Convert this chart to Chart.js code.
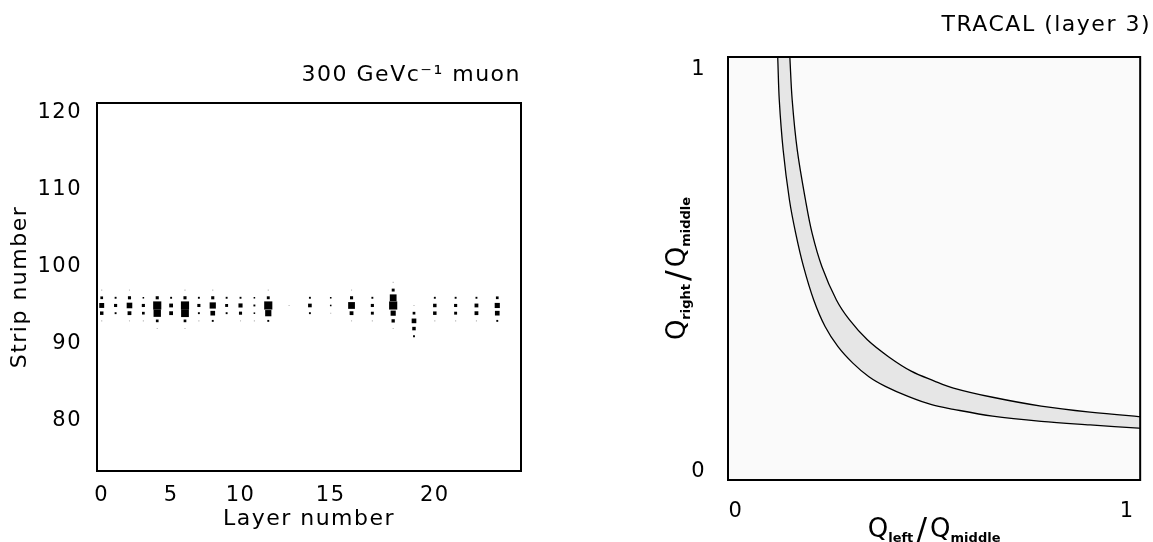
<!DOCTYPE html>
<html>
<head>
<meta charset="utf-8">
<script src="https://cdn.jsdelivr.net/npm/chart.js@4.4.1/dist/chart.umd.min.js"></script>
<style>
  html, body { margin: 0; padding: 0; background: #fff; overflow: hidden; }
  #wrap { position: relative; width: 1153px; height: 542px; }
  .panel { position: absolute; top: 0; }
  #left { left: 0; }
  #right { left: 600px; }
</style>
</head>
<body>
<div id="wrap">
  <div class="panel" id="left"><canvas id="hits" width="560" height="542"></canvas></div>
  <div class="panel" id="right"><canvas id="ratio" width="553" height="542"></canvas></div>
</div>
<script>
  // ---- left panel : hit map of a 300 GeV muon ----
  const LAYERS = [0, 1, 2, 3, 4, 5, 6, 7, 8, 9, 10, 11, 12, 13, 14, 15, 16, 17, 18, 19, 20, 21, 22, 23];
  const STRIPS = [98, 97, 96, 95, 94, 93, 92, 91];
  // hits per layer, one entry per strip in STRIPS order
  const HITS = [
    [0, 1, 6, 20, 10, 1, 0, 0],
    [0, 0, 3, 8, 3, 0, 0, 0],
    [0, 1, 8, 26, 12, 1, 0, 0],
    [0, 0, 2, 8, 6, 1, 0, 0],
    [0, 0, 8, 55, 45, 6, 1, 0],
    [0, 0, 3, 12, 12, 0, 0, 0],
    [0, 1, 8, 55, 50, 6, 1, 0],
    [0, 0, 3, 8, 3, 1, 0, 0],
    [0, 1, 8, 32, 18, 3, 0, 0],
    [0, 0, 3, 7, 3, 0, 0, 0],
    [0, 0, 3, 14, 8, 1, 0, 0],
    [0, 0, 2, 3, 2, 1, 0, 0],
    [0, 1, 7, 55, 32, 3, 0, 0],
    [0, 0, 0, 1, 0, 0, 0, 0],
    [0, 0, 3, 11, 3, 0, 0, 0],
    [0, 0, 2, 2, 1, 0, 0, 0],
    [0, 1, 8, 38, 12, 1, 0, 0],
    [0, 0, 3, 8, 7, 1, 0, 0],
    [1, 7, 38, 55, 22, 9, 1, 0],
    [0, 0, 0, 1, 6, 18, 10, 3],
    [0, 0, 3, 10, 10, 1, 0, 0],
    [0, 0, 3, 8, 7, 1, 0, 0],
    [0, 0, 3, 12, 12, 1, 0, 0],
    [0, 0, 6, 22, 18, 3, 0, 0]
  ];
  const LAYER_TICKS = [0, 5, 10, 15, 20];
  const STRIP_TICKS = [80, 90, 100, 110, 120];

  // ---- right panel : TRACAL layer 3 charge ratios, band limits ----
  const INNER_X = [0.105, 0.107, 0.111, 0.121, 0.137, 0.153, 0.173, 0.199, 0.228, 0.261, 0.299, 0.340, 0.382, 0.440, 0.498, 0.556, 0.656, 0.780, 0.905, 1.029, 1.060];
  const INNER_Y = [1.070, 1.032, 0.925, 0.800, 0.676, 0.593, 0.510, 0.427, 0.361, 0.311, 0.270, 0.236, 0.212, 0.187, 0.167, 0.155, 0.138, 0.125, 0.116, 0.108, 0.106];
  const OUTER_X = [0.136, 0.138, 0.144, 0.157, 0.178, 0.195, 0.220, 0.257, 0.290, 0.336, 0.390, 0.448, 0.506, 0.556, 0.656, 0.780, 0.905, 1.029, 1.060];
  const OUTER_Y = [1.070, 1.032, 0.925, 0.800, 0.676, 0.593, 0.510, 0.427, 0.378, 0.328, 0.286, 0.250, 0.226, 0.208, 0.185, 0.163, 0.148, 0.137, 0.135];
  const RATIO_TICKS = [0, 1];

  const FONT = "'DejaVu Sans', sans-serif";
  Chart.defaults.font.family = FONT;
  Chart.defaults.color = '#000';

  // layers after BREAK_LAYER sit on a wider pitch in the original drawing
  const BREAK_LAYER = 12;
  const OUTER_PITCH = 1.5;

  class LayerScale extends Chart.LinearScale {
    warp(v) {
      return v <= BREAK_LAYER ? v : BREAK_LAYER + (v - BREAK_LAYER) * OUTER_PITCH;
    }
    unwarp(w) {
      return w <= BREAK_LAYER ? w : BREAK_LAYER + (w - BREAK_LAYER) / OUTER_PITCH;
    }
    getPixelForValue(value) {
      const a = this.warp(this.min), b = this.warp(this.max);
      return this.getPixelForDecimal((this.warp(value) - a) / (b - a));
    }
    getValueForPixel(pixel) {
      const a = this.warp(this.min), b = this.warp(this.max);
      return this.unwarp(a + this.getDecimalForPixel(pixel) * (b - a));
    }
  }
  LayerScale.id = 'layerwarp';
  LayerScale.defaults = Chart.LinearScale.defaults;
  Chart.register(LayerScale);

  // box around the plot area + light background + text spacing
  const framePlugin = {
    id: 'frame',
    beforeDraw(chart, args, opts) {
      chart.ctx.letterSpacing = opts.spacing || '0px';
    },
    beforeDatasetsDraw(chart, args, opts) {
      const {ctx, chartArea: a} = chart;
      if (opts.fill) {
        ctx.save();
        ctx.fillStyle = opts.fill;
        ctx.fillRect(a.left, a.top, a.right - a.left, a.bottom - a.top);
        ctx.restore();
      }
    },
    afterDatasetsDraw(chart, args, opts) {
      const {ctx, chartArea: a} = chart;
      ctx.save();
      ctx.strokeStyle = '#000';
      ctx.lineWidth = opts.width || 2;
      ctx.strokeRect(a.left, a.top, a.right - a.left, a.bottom - a.top);
      ctx.restore();
    }
  };

  // axis titles with subscripts (Q_left / Q_middle)
  function drawRuns(ctx, runs, cx, cy, rotate) {
    ctx.save();
    ctx.translate(cx, cy);
    if (rotate) ctx.rotate(-Math.PI / 2);
    ctx.letterSpacing = '0px';
    ctx.textBaseline = 'alphabetic';
    ctx.textAlign = 'left';
    ctx.fillStyle = '#000';
    let total = 0;
    runs.forEach(r => {
      ctx.font = r.font;
      r.w = ctx.measureText(r.text).width + (r.gap || 0) * 2;
      total += r.w;
    });
    let x = -total / 2;
    runs.forEach(r => {
      ctx.font = r.font;
      ctx.fillText(r.text, x + (r.gap || 0), r.dy || 0);
      x += r.w;
    });
    ctx.restore();
  }

  function ratioRuns(sub) {
    return [
      { text: 'Q', font: '26px ' + FONT },
      { text: sub, font: 'bold 13px ' + FONT, dy: 5 },
      { text: '/', font: '32px ' + FONT, dy: 3, gap: 3 },
      { text: 'Q', font: '26px ' + FONT },
      { text: 'middle', font: 'bold 13px ' + FONT, dy: 5 }
    ];
  }

  const richTitlePlugin = {
    id: 'richTitles',
    afterDraw(chart) {
      const {ctx, chartArea: a} = chart;
      drawRuns(ctx, ratioRuns('left'), (a.left + a.right) / 2, a.bottom + 57, false);
      drawRuns(ctx, ratioRuns('right'), a.left - 43, (a.top + a.bottom) / 2, true);
    }
  };

  const tickFont = { size: 21 };
  const titleFont = { size: 22 };

  // ---------- left chart ----------
  const hitPoints = [];
  HITS.forEach((col, i) => col.forEach((n, j) => {
    if (n > 0) hitPoints.push({ x: LAYERS[i], y: STRIPS[j], n: n });
  }));
  const boxSide = n => 1.1 * Math.sqrt(n);

  new Chart(document.getElementById('hits'), {
    type: 'scatter',
    data: {
      datasets: [{
        data: hitPoints,
        pointStyle: 'rect',
        pointRadius: c => boxSide(c.raw.n) / Math.SQRT2,
        pointHoverRadius: c => boxSide(c.raw.n) / Math.SQRT2,
        pointBorderWidth: 0,
        pointBackgroundColor: c => (c.raw.n <= 1 ? '#b4b4b4' : '#000')
      }]
    },
    options: {
      responsive: false,
      animation: false,
      events: [],
      layout: { padding: { left: 0, right: 39, top: 0, bottom: 0 } },
      plugins: {
        legend: { display: false },
        tooltip: { enabled: false },
        title: {
          display: true, text: '300 GeVc\u207B\u00B9 muon', align: 'end',
          font: { size: 22, weight: 'normal' }, color: '#000',
          padding: { top: 62, bottom: 14.6 }
        },
        frame: { spacing: '1.5px' }
      },
      scales: {
        x: {
          type: 'layerwarp', min: -0.34, max: 24.14,
          afterBuildTicks: s => { s.ticks = LAYER_TICKS.map(v => ({ value: v })); },
          afterFit: s => { s.height = 71; },
          grid: { display: false, drawTicks: false },
          border: { display: false },
          ticks: { padding: 12, font: tickFont, maxRotation: 0, autoSkip: false, callback: v => String(v) },
          title: { display: true, text: 'Layer number', font: titleFont, padding: { top: 0, bottom: 10 } }
        },
        y: {
          type: 'linear', min: 73.5, max: 121.3,
          afterBuildTicks: s => { s.ticks = STRIP_TICKS.map(v => ({ value: v })); },
          afterFit: s => { s.width = 97; },
          grid: { display: false, drawTicks: false },
          border: { display: false },
          ticks: { padding: 15, font: tickFont, callback: v => String(v) },
          title: { display: true, text: 'Strip number', font: titleFont, padding: { top: 7, bottom: 0 } }
        }
      }
    },
    plugins: [framePlugin]
  });

  // ---------- right chart ----------
  const innerPts = INNER_X.map((x, i) => ({ x: x, y: INNER_Y[i] }));
  const outerPts = OUTER_X.map((x, i) => ({ x: x, y: OUTER_Y[i] }));
  const curveStyle = { borderColor: '#000', borderWidth: 1.3, pointRadius: 0, tension: 0.35, fill: false, capBezierPoints: false };

  new Chart(document.getElementById('ratio'), {
    type: 'line',
    data: {
      datasets: [
        Object.assign({ data: innerPts }, curveStyle),
        Object.assign({ data: outerPts }, curveStyle),
        {
          data: innerPts.concat(outerPts.slice().reverse()),
          borderColor: 'rgba(0,0,0,0)', borderWidth: 0, pointRadius: 0,
          tension: 0.35, capBezierPoints: false,
          fill: 'shape', backgroundColor: 'rgba(0,0,0,0.08)'
        }
      ]
    },
    options: {
      responsive: false,
      animation: false,
      events: [],
      layout: { padding: { left: 0, right: 2, top: 0, bottom: 0 } },
      plugins: {
        legend: { display: false },
        tooltip: { enabled: false },
        title: {
          display: true, text: 'TRACAL (layer 3)', align: 'end',
          font: { size: 22, weight: 'normal' }, color: '#000',
          padding: { top: 12, bottom: 18.6 }
        },
        frame: { spacing: '1.5px', fill: '#fafafa' }
      },
      scales: {
        x: {
          type: 'linear', min: -0.02, max: 1.033,
          afterBuildTicks: s => { s.ticks = RATIO_TICKS.map(v => ({ value: v })); },
          afterFit: s => { s.height = 62; },
          grid: { display: false, drawTicks: false },
          border: { display: false },
          ticks: { padding: 19, font: tickFont, maxRotation: 0, autoSkip: false, callback: v => String(v) }
        },
        y: {
          type: 'linear', min: -0.021, max: 1.032,
          afterBuildTicks: s => { s.ticks = RATIO_TICKS.map(v => ({ value: v })); },
          afterFit: s => { s.width = 128; },
          grid: { display: false, drawTicks: false },
          border: { display: false },
          ticks: { padding: 22, font: tickFont, callback: v => String(v) }
        }
      }
    },
    plugins: [framePlugin, richTitlePlugin]
  });
</script>
</body>
</html>
